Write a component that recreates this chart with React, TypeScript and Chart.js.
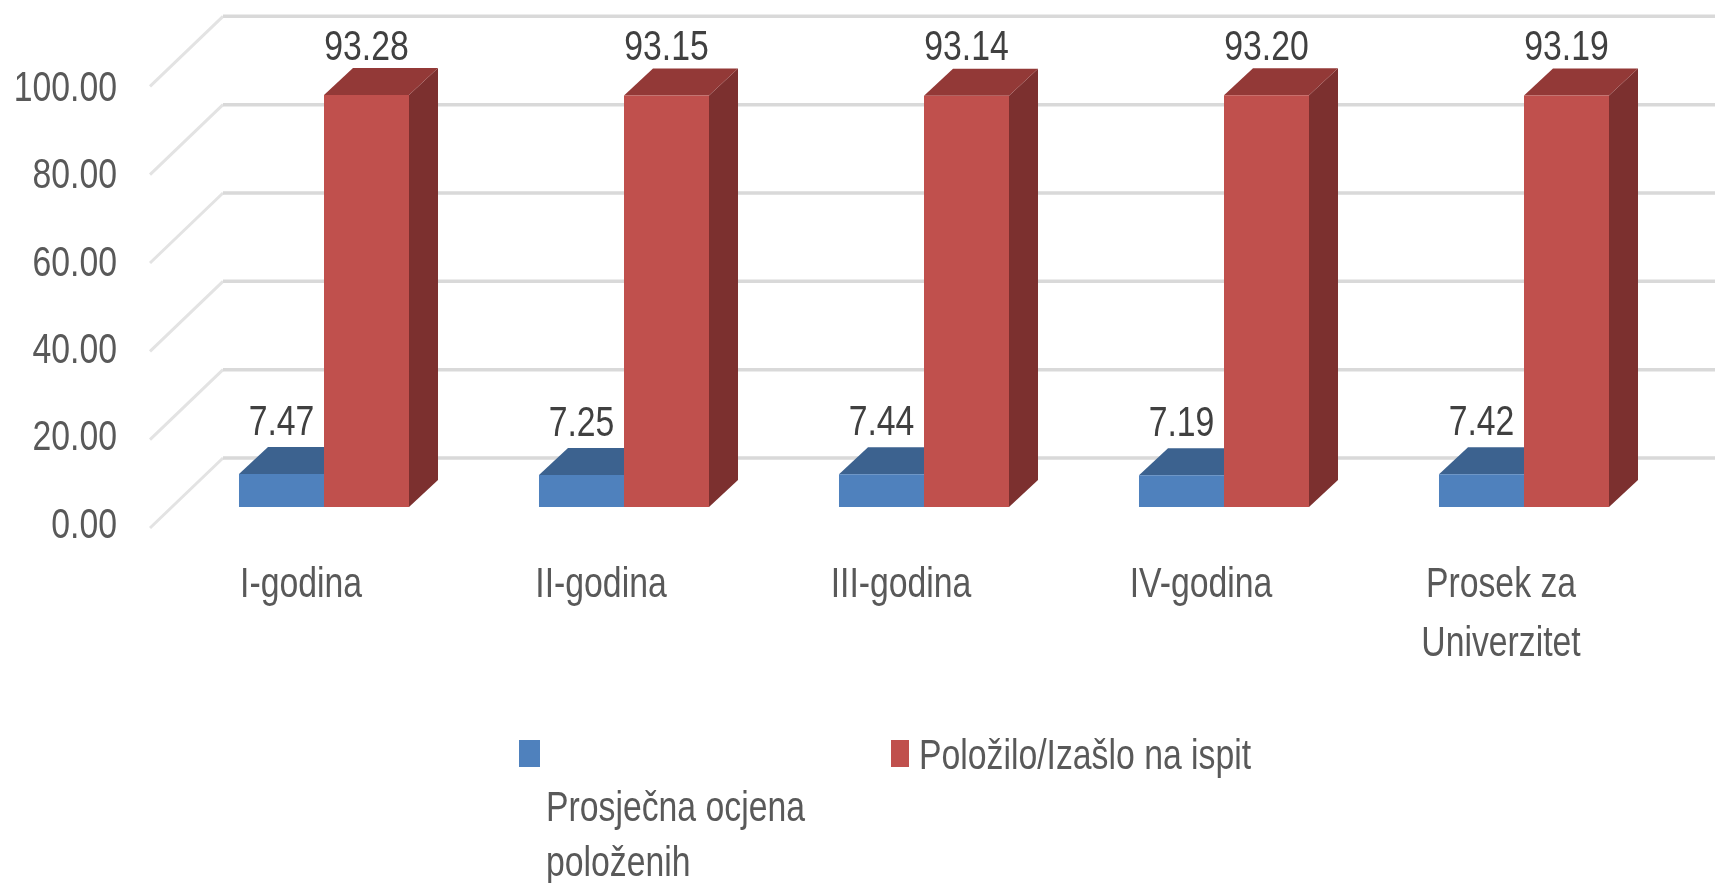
import React, { useEffect, useRef } from "react";
import { Chart, registerables } from "chart.js";

Chart.register(...registerables);

const categories: (string | string[])[] = ["I-godina", "II-godina", "III-godina", "IV-godina", ["Prosek za", "Univerzitet"]];
const avgGrade = [7.47, 7.25, 7.44, 7.19, 7.42];
const passedRate = [93.28, 93.15, 93.14, 93.2, 93.19];
const seriesNames = ["Prosječna ocjena položenih", "Položilo/Izašlo na ispit"];
const legendLines = [["Prosječna ocjena", "položenih"], ["Položilo/Izašlo na ispit"]];
const yTicks = [0, 20, 40, 60, 80, 100];

const FONT = '"Liberation Sans", sans-serif';
const FONT_SIZE = 43;
const CONDENSE = 0.785;
const BLUE = { front: "#4F81BD", top: "#3C628F", side: "#2F4D70" };
const RED = { front: "#C0504D", top: "#933937", side: "#7C302F" };
const DEPTH_X = 29;
const DEPTH_Y = 27;
const WALL_DX = 73;
const WALL_DY = 70;
const WALL_BACK = 49;
const LABEL_GAP = [51, 47];

const face = (ctx: CanvasRenderingContext2D, pts: number[][], fill: string) => {
  ctx.beginPath();
  pts.forEach((p, i) => (i ? ctx.lineTo(p[0], p[1]) : ctx.moveTo(p[0], p[1])));
  ctx.closePath();
  ctx.fillStyle = fill;
  ctx.fill();
};

// No narrow face is installed, so every string is squeezed horizontally about its anchor.
const condenseText = (ctx: CanvasRenderingContext2D) => {
  const original = ctx.fillText.bind(ctx);
  ctx.fillText = (text: string, x: number, y: number) => {
    ctx.save();
    ctx.translate(x, y);
    ctx.scale(CONDENSE, 1);
    original(text, 0, 0);
    ctx.restore();
  };
};

const wallAndDepth = {
  id: "wallAndDepth",
  beforeDatasetsDraw(chart: any) {
    const { ctx, scales, width } = chart;
    const y = scales.yBar;
    const x0 = chart.chartArea.left - 24;
    ctx.save();
    yTicks.forEach((t) => {
      const py = y.getPixelForValue(t) - WALL_BACK;
      ctx.strokeStyle = "#E3E3E3";
      ctx.lineWidth = 3;
      ctx.beginPath();
      ctx.moveTo(x0, py + WALL_DY);
      ctx.lineTo(x0 + WALL_DX, py);
      ctx.stroke();
      ctx.strokeStyle = "#D9D9D9";
      ctx.lineWidth = 3.5;
      ctx.beginPath();
      ctx.moveTo(x0 + WALL_DX, py);
      ctx.lineTo(width, py);
      ctx.stroke();
    });
    [BLUE, RED].forEach((c, di) => {
      chart.getDatasetMeta(di).data.forEach((el: any) => {
        const l = el.x - el.width / 2;
        const r = el.x + el.width / 2;
        const t = el.y;
        const b = el.base;
        face(ctx, [[r, t], [r + DEPTH_X, t - DEPTH_Y], [r + DEPTH_X, b - DEPTH_Y], [r, b]], c.side);
        face(ctx, [[l, t], [l + DEPTH_X, t - DEPTH_Y], [r + DEPTH_X, t - DEPTH_Y], [r, t]], c.top);
      });
    });
    ctx.restore();
  },
  afterDatasetsDraw(chart: any) {
    const { ctx } = chart;
    ctx.save();
    ctx.font = `${FONT_SIZE}px ${FONT}`;
    ctx.fillStyle = "#404040";
    ctx.textAlign = "center";
    ctx.textBaseline = "middle";
    chart.data.datasets.forEach((ds: any, di: number) => {
      chart.getDatasetMeta(di).data.forEach((el: any, i: number) => {
        ctx.fillText(ds.data[i].toFixed(2), el.x, el.y - LABEL_GAP[di]);
      });
    });
    ctx.restore();
  },
  afterDraw(chart: any) {
    const { ctx } = chart;
    ctx.save();
    ctx.font = `${FONT_SIZE}px ${FONT}`;
    ctx.textBaseline = "middle";
    ctx.textAlign = "left";
    ctx.fillStyle = BLUE.front;
    ctx.fillRect(519, 740, 21, 27);
    ctx.fillStyle = "#595959";
    legendLines[0].forEach((line, i) => ctx.fillText(line, 546, 809 + i * 55));
    ctx.fillStyle = RED.front;
    ctx.fillRect(891, 740, 18, 27);
    ctx.fillStyle = "#595959";
    legendLines[1].forEach((line, i) => ctx.fillText(line, 919, 757 + i * 55));
    ctx.restore();
  },
};

export default function App() {
  const ref = useRef<HTMLCanvasElement>(null);
  useEffect(() => {
    document.body.style.margin = "0";
    const canvas = ref.current as HTMLCanvasElement;
    condenseText(canvas.getContext("2d") as CanvasRenderingContext2D);
    const chart = new Chart(canvas, {
      type: "bar",
      data: {
        labels: categories as any,
        datasets: [
          { label: seriesNames[0], data: avgGrade, backgroundColor: BLUE.front, yAxisID: "yBar", categoryPercentage: 0.5667, barPercentage: 1 },
          { label: seriesNames[1], data: passedRate, backgroundColor: RED.front, yAxisID: "yBar", categoryPercentage: 0.5667, barPercentage: 1 },
        ],
      },
      options: {
        responsive: false,
        animation: false,
        layout: { padding: { top: 89, right: 41, left: 0, bottom: 0 } },
        plugins: { legend: { display: false }, tooltip: { enabled: false }, title: { display: false } },
        scales: {
          x: {
            grid: { display: false, drawTicks: false },
            border: { display: false },
            afterFit: (s: any) => { s.height = 357; },
            ticks: {
              autoSkip: false,
              maxRotation: 0,
              minRotation: 0,
              padding: 30,
              labelOffset: -23,
              color: "#595959",
              font: { family: FONT, size: FONT_SIZE, lineHeight: 1.372 },
            },
          },
          y: {
            min: 0,
            max: 100,
            afterFit: (s: any) => { s.width = 174; },
            afterBuildTicks: (s: any) => { s.ticks = yTicks.map((value) => ({ value })); },
            grid: { display: false, drawTicks: false },
            border: { display: false },
            ticks: {
              padding: 57,
              color: "#595959",
              callback: (v: any) => Number(v).toFixed(2),
              font: { family: FONT, size: FONT_SIZE },
            },
          },
          yBar: { display: false, min: -4.3, max: 94.64 },
        },
      },
      plugins: [wallAndDepth],
    } as any);
    return () => chart.destroy();
  }, []);
  return (
    <div style={{ width: 1715, height: 883, overflow: "hidden" }}>
      <canvas ref={ref} width={1715} height={883} style={{ display: "block" }} />
    </div>
  );
}
